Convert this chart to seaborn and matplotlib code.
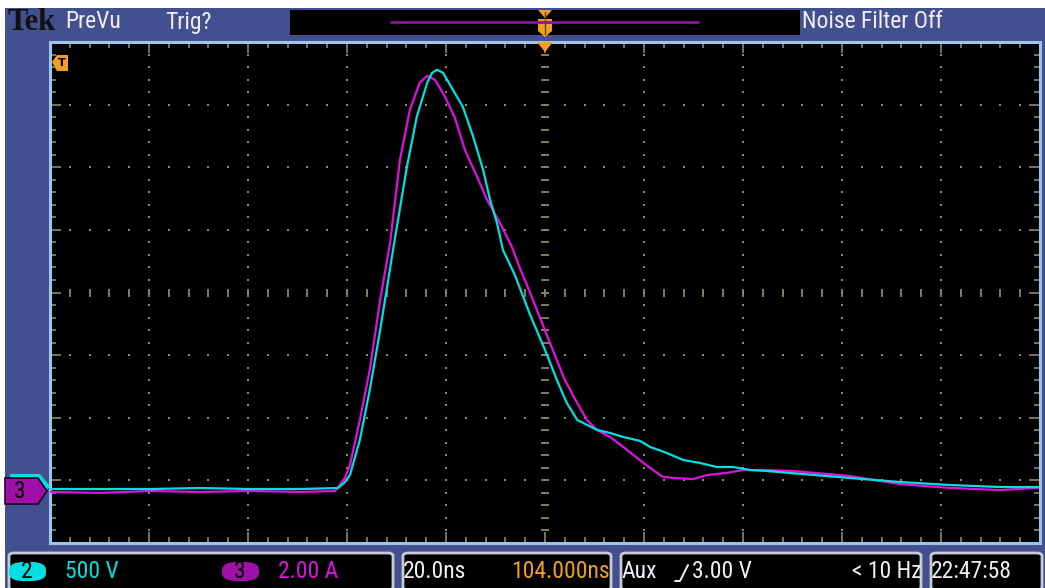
import numpy as np
import pandas as pd
import matplotlib
matplotlib.use("Agg")
import matplotlib.pyplot as plt
import seaborn as sns
from matplotlib.patches import Rectangle, FancyBboxPatch, Polygon
from matplotlib.lines import Line2D

# scope settings
ns_per_div = 20.0
volts_per_div = 500.0   # ch2
amps_per_div = 2.0      # ch3
ground_div = 0.84       # ground markers, divisions above the bottom edge

# ch2 (cyan) voltage trace, time in ns from the left edge
ch2_t = [0, 10.1, 20.2, 30.3, 40.4, 50.5, 58.2, 59.6, 60.6, 62.6, 64.6, 66.7, 69.3, 72.1,
         74.1, 76.2, 77.2, 78.2, 79.4, 81.4, 83.4, 85.5, 87.5, 88.9, 90.3, 91.5, 93.9,
         97.0, 100.0, 102.4, 104.4, 106.5, 108.5, 110.5, 113.1, 115.8, 119.2, 121.2,
         124.6, 127.9, 131.3, 134.7, 138.0, 141.4, 144.8, 149.5, 161.6, 171.7, 181.8,
         191.9, 199.6]
ch2_v = [11, 11, 11, 19, 11, 11, 19, 67, 123, 403, 802, 1281, 1920, 2583,
         2983, 3254, 3334, 3358, 3334, 3198, 3063, 2823, 2559, 2320, 2136, 1920, 1721,
         1401, 1122, 882, 698, 563, 523, 483, 459, 427, 395, 347,
         299, 243, 219, 187, 187, 163, 155, 139, 99, 67, 43,
         27, 27]

# ch3 (magenta) current trace
ch3_t = [0, 10.1, 20.2, 30.3, 40.4, 50.5, 57.6, 59.6, 60.6, 62.6, 64.6, 66.7, 68.7, 70.7,
         72.7, 74.7, 76.2, 77.8, 79.8, 81.8, 83.8, 86.3, 88.3, 90.9, 93.3, 94.9, 97.0,
         99.0, 101.0, 104.0, 106.5, 108.5, 110.5, 113.1, 115.8, 118.6, 121.2, 123.8,
         125.9, 129.9, 132.7, 136.8, 140.0, 144.8, 150.1, 161.6, 171.7, 181.8, 191.9,
         199.6]
ch3_a = [-0.05, -0.08, -0.02, -0.05, -0.02, -0.05, -0.02, 0.40, 0.81, 2.25, 3.85, 6.08, 7.90, 10.56,
         12.15, 13.02, 13.24, 13.11, 12.57, 11.90, 10.88, 10.01, 9.28, 8.54, 7.78, 7.11, 6.31,
         5.51, 4.71, 3.53, 2.79, 2.25, 1.93, 1.71, 1.39, 1.04, 0.72, 0.43,
         0.40, 0.36, 0.49, 0.56, 0.65, 0.65, 0.62, 0.46, 0.20, 0.08, 0.01,
         0.08]

W, H = 1045, 588
BLUE = "#42508f"
CYAN = "#00e0e0"
MAG = "#e010e0"
ORANGE = "#f0a020"
GRIDC = "#8c8a68"
TXT = "#eeeef4"
FS = 17

sns.set_theme(style="dark")
plt.rcParams["font.family"] = ["Roboto Condensed", "DejaVu Sans"]


def P(x, y):
    # screen pixel -> figure fraction
    return x / W, 1 - y / H


fig = plt.figure(figsize=(W / 100, H / 100), dpi=100, facecolor="white")

# blue frame
fig.add_artist(Rectangle(P(5, 588), 1040 / W, 580 / H, transform=fig.transFigure,
                         facecolor=BLUE, edgecolor="none", zorder=0))

ax = fig.add_axes([50 / W, 45 / H, 990 / W, 501 / H])
ax.set_facecolor("black")

df2 = pd.DataFrame({"t": ch2_t, "div": np.array(ch2_v) / volts_per_div + ground_div, "ch": "2"})
df3 = pd.DataFrame({"t": ch3_t, "div": np.array(ch3_a) / amps_per_div + ground_div, "ch": "3"})
df = pd.concat([df3, df2], ignore_index=True)

sns.lineplot(data=df, x="t", y="div", hue="ch", palette={"2": CYAN, "3": MAG},
             hue_order=["3", "2"], estimator=None, sort=False, lw=1.6,
             legend=False, ax=ax, zorder=5)

ax.set_xlim(0, 10 * ns_per_div)
ax.set_ylim(0, 8)
ax.set_xlabel("")
ax.set_ylabel("")
ax.set_xticks(np.arange(0, 201, ns_per_div))
ax.set_xticks(np.arange(0, 201, ns_per_div / 5), minor=True)
ax.set_yticks(np.arange(0, 9, 1))
ax.set_yticks(np.arange(0, 8.01, 0.2), minor=True)
ax.tick_params(which="both", direction="in", top=True, right=True, bottom=True, left=True,
               labelbottom=False, labelleft=False, colors=GRIDC, width=1.2)
ax.tick_params(which="major", length=8)
ax.tick_params(which="minor", length=4)
ax.grid(False)
for s in ax.spines.values():
    s.set_color("#9cc4e8")
    s.set_linewidth(2.2)

# dotted graticule
xs_minor = np.arange(0, 201, ns_per_div / 5)
ys_minor = np.arange(0, 8.01, 0.2)
for gx in np.arange(ns_per_div, 200, ns_per_div):
    if gx == 100:
        continue
    ax.plot(np.full_like(ys_minor, gx), ys_minor, ls="none", marker="s", ms=1.6,
            mew=0, color=GRIDC, zorder=1)
for gy in range(1, 8):
    if gy == 4:
        continue
    ax.plot(xs_minor, np.full_like(xs_minor, gy), ls="none", marker="s", ms=1.6,
            mew=0, color=GRIDC, zorder=1)
ax.plot(np.full_like(ys_minor, 100), ys_minor, ls="none", marker="_", ms=6, mew=1.3,
        color=GRIDC, zorder=1)
ax.plot(xs_minor, np.full_like(xs_minor, 4), ls="none", marker="|", ms=6, mew=1.3,
        color=GRIDC, zorder=1)

# top status bar
fig.text(*P(7, 22), "Tek", family=["Liberation Serif", "DejaVu Serif"], weight="bold",
         fontsize=22, color="#111111", va="center", ha="left")
fig.text(*P(65, 22), "PreVu", fontsize=FS, color=TXT, va="center", ha="left")
fig.text(*P(165, 22), "Trig?", fontsize=FS, color=TXT, va="center", ha="left")
fig.text(*P(802, 22), "Noise Filter Off", fontsize=FS, color=TXT, va="center", ha="left")
fig.add_artist(Rectangle(P(290, 35), 510 / W, 25 / H, transform=fig.transFigure,
                         facecolor="black", edgecolor="none"))
fig.add_artist(Line2D([391 / W, 698 / W], [1 - 22 / H] * 2, transform=fig.transFigure,
                      color="#9010a0", lw=2))
# horizontal position marker
fig.add_artist(Polygon([P(538, 10), P(552, 10), P(545, 18)], closed=True,
                       transform=fig.transFigure, facecolor=ORANGE, edgecolor="none"))
fig.add_artist(Polygon([P(538, 19), P(552, 19), P(552, 31), P(545, 37), P(538, 31)], closed=True,
                       transform=fig.transFigure, facecolor=ORANGE, edgecolor="none"))
fig.add_artist(Line2D([545 / W, 545 / W], [1 - 12 / H, 1 - 34 / H], transform=fig.transFigure,
                      color="#604020", lw=1))
fig.add_artist(Polygon([P(537, 42), P(553, 42), P(545, 52)], closed=True,
                       transform=fig.transFigure, facecolor=ORANGE, edgecolor="none", zorder=10))
# trigger level marker
fig.add_artist(Polygon([P(52, 62), P(57, 55), P(68, 55), P(68, 71), P(57, 71)], closed=True,
                       transform=fig.transFigure, facecolor=ORANGE, edgecolor="none", zorder=10))
fig.text(*P(62, 63), "T", fontsize=8, weight="bold", color="black", ha="center", va="center",
         family="DejaVu Sans", zorder=11)

# channel ground markers
fig.add_artist(Polygon([P(10, 474), P(40, 474), P(50, 486), P(40, 498), P(10, 498)], closed=True,
                       transform=fig.transFigure, facecolor=CYAN, edgecolor="none", zorder=10))
fig.add_artist(Polygon([P(5, 478), P(38, 478), P(47, 491), P(38, 504), P(5, 504)], closed=True,
                       transform=fig.transFigure, facecolor="#a010a8", edgecolor="#200020",
                       lw=1.2, zorder=11))
fig.text(*P(20, 491), "3", fontsize=FS, color="black", ha="center", va="center", zorder=12)

# bottom readout panels
for x0, x1 in [(6, 396), (400, 614), (618, 924), (928, 1045)]:
    fig.add_artist(FancyBboxPatch(P(x0 + 3, 590), (x1 - x0 - 6) / W, 37 / H,
                                  boxstyle="round,pad=0,rounding_size=0.005",
                                  transform=fig.transFigure, facecolor="black",
                                  edgecolor="#c8cad4", lw=2))
fig.add_artist(FancyBboxPatch(P(9, 581), 37 / W, 19 / H, boxstyle="round,pad=0,rounding_size=0.014",
                              transform=fig.transFigure, facecolor=CYAN, edgecolor="none"))
fig.text(*P(27, 572), "2", fontsize=FS, color="black", ha="center", va="center")
fig.text(*P(65, 572), "500 V", fontsize=FS, color=CYAN, ha="left", va="center")
fig.add_artist(FancyBboxPatch(P(222, 581), 37 / W, 19 / H, boxstyle="round,pad=0,rounding_size=0.014",
                              transform=fig.transFigure, facecolor="#a010a8", edgecolor="none"))
fig.text(*P(240, 572), "3", fontsize=FS, color="black", ha="center", va="center")
fig.text(*P(278, 572), "2.00 A", fontsize=FS, color=MAG, ha="left", va="center")
fig.text(*P(403, 572), "20.0ns", fontsize=FS, color=TXT, ha="left", va="center")
fig.text(*P(610, 572), "104.000ns", fontsize=FS, color=ORANGE, ha="right", va="center")
fig.text(*P(621, 572), "Aux", fontsize=FS, color=TXT, ha="left", va="center")
fig.add_artist(Line2D([675 / W, 680 / W, 688 / W], [1 - 581 / H, 1 - 581 / H, 1 - 565 / H],
                      transform=fig.transFigure, color=TXT, lw=1.4))
fig.text(*P(692, 572), "3.00 V", fontsize=FS, color=TXT, ha="left", va="center")
fig.text(*P(921, 572), "< 10 Hz", fontsize=FS, color=TXT, ha="right", va="center")
fig.text(*P(931, 572), "22:47:58", fontsize=FS, color=TXT, ha="left", va="center")

fig.savefig("out.png", dpi=100, facecolor=fig.get_facecolor())
